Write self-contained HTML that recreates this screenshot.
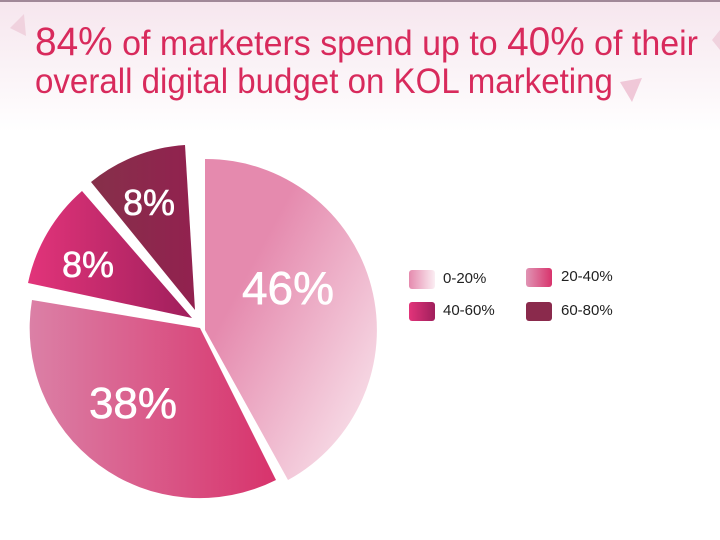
<!DOCTYPE html>
<html><head><meta charset="utf-8"><style>
html,body{margin:0;padding:0;}
body{width:720px;height:540px;overflow:hidden;background:#fff;font-family:"Liberation Sans",sans-serif;position:relative;}
.bg{position:absolute;left:0;top:0;width:720px;height:130px;background:linear-gradient(#f6e6ee,#fff);border-top:2px solid #a08898;}
.t{position:absolute;left:35px;color:#d82a5c;font-size:35px;white-space:nowrap;transform-origin:0 0;transform:scaleX(0.97);}
.t b{font-weight:normal;font-size:40px;}
.lg{position:absolute;font-size:15px;color:#222;}
.sw{position:absolute;width:26px;height:19px;border-radius:3px;}
</style></head><body>
<div class="bg"></div>
<svg style="position:absolute;left:0;top:0" width="720" height="540">
<polygon points="10,28 24,14 26,36" fill="#f0d2de"/>
<polygon points="620,82 642,78 632,102" fill="#f0c8d8"/>
<polygon points="712,40 720,30 720,50" fill="#f0d2de"/>
<defs>
<linearGradient id="g1" x1="0" y1="0" x2="1" y2="1"><stop offset="0.3" stop-color="#e58aae"/><stop offset="1" stop-color="#fbeef3"/></linearGradient>
<linearGradient id="g2" x1="0" y1="0" x2="1" y2="0"><stop offset="0" stop-color="#db80a6"/><stop offset="1" stop-color="#d8336c"/></linearGradient>
<linearGradient id="g3" x1="0" y1="0" x2="1" y2="0"><stop offset="0" stop-color="#e2347a"/><stop offset="1" stop-color="#a01f5c"/></linearGradient>
<linearGradient id="g4" x1="0" y1="0" x2="1" y2="0"><stop offset="0" stop-color="#86304a"/><stop offset="1" stop-color="#92214f"/></linearGradient>
</defs>
<path d="M205,330 L205,159 A171,171 0 0 1 288,480 Z" fill="url(#g1)"/>
<path d="M200,328 L276,480 A170,170 0 0 1 32,300 Z" fill="url(#g2)"/>
<path d="M192,318 L28,283 A168,168 0 0 1 82,191 Z" fill="url(#g3)"/>
<path d="M195,310 L91,182 A165,165 0 0 1 185,145 Z" fill="url(#g4)"/>
<g fill="#fff" font-family="Liberation Sans,sans-serif" text-anchor="middle" stroke="#fff" stroke-width="0.6">
<text x="288" y="304" font-size="46">46%</text>
<text x="133" y="418" font-size="44">38%</text>
<text x="149" y="215" font-size="36">8%</text>
<text x="88" y="277" font-size="36">8%</text>
</g>
</svg>
<div class="t" style="top:20px"><b>84%</b> of marketers spend up to <b>40%</b> of their</div>
<div class="t" style="top:62px;transform:scaleX(0.945)">overall digital budget on KOL marketing</div>
<div class="sw" style="left:409px;top:270px;background:linear-gradient(90deg,#e58aae,#fbeef3)"></div>
<div class="lg" style="left:443px;top:270px">0-20%</div>
<div class="sw" style="left:526px;top:268px;background:linear-gradient(90deg,#e094b4,#d8336c)"></div>
<div class="lg" style="left:561px;top:268px">20-40%</div>
<div class="sw" style="left:409px;top:302px;background:linear-gradient(90deg,#e2347a,#a01f5c)"></div>
<div class="lg" style="left:443px;top:302px">40-60%</div>
<div class="sw" style="left:526px;top:302px;background:#8a2a4c"></div>
<div class="lg" style="left:561px;top:302px">60-80%</div>
</body></html>
